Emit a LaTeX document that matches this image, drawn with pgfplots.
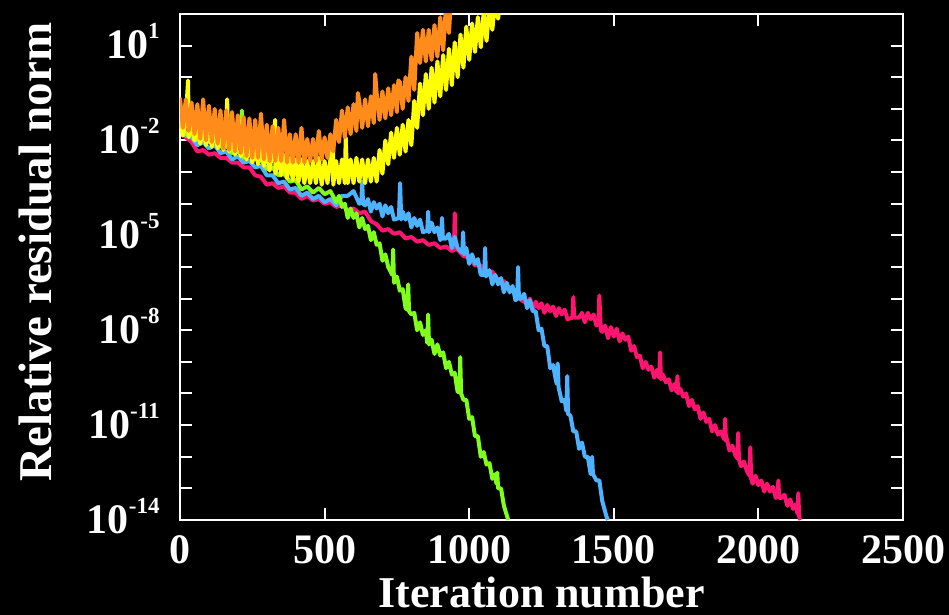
\documentclass[border=0pt]{standalone}
\usepackage{pgfplots}
\pgfplotsset{compat=1.18}
\usepackage{fontspec}
\setmainfont{Liberation Serif}

\definecolor{cpink}{HTML}{FF1470}
\definecolor{cblue}{HTML}{4DB2FF}
\definecolor{cgreen}{HTML}{80FF1A}
\definecolor{cyellow}{HTML}{FFFF00}
\definecolor{corange}{HTML}{FF8C1A}

% exponent for the tick labels
\newcommand{\ex}[1]{\raisebox{10pt}{\fontsize{11.5}{11.5}\selectfont #1}}

\begin{document}
\begin{tikzpicture}
\useasboundingbox (-90pt,-47.5pt) rectangle (384.5pt,260pt);
\fill[black] (-90pt,-47.5pt) rectangle (384.5pt,260pt);
\begin{axis}[
    scale only axis,
    width=361.5pt, height=253pt,
    xmin=0, xmax=2500,
    ymode=log, ymin=1e-14, ymax=1e2,
    xtick={0,500,1000,1500,2000,2500},
    xticklabels={0,500,1000,1500,2000,2500},
    ytick={1e-14,1e-11,1e-8,1e-5,1e-2,1e1},
    yticklabels={10\ex{-14},10\ex{-11},10\ex{-8},10\ex{-5},10\ex{-2},10\ex{1}},
    minor ytick={1e-13,1e-12,1e-10,1e-9,1e-7,1e-6,1e-4,1e-3,1e-1,1,1e2},
    tick align=inside,
    major tick length=6pt, minor tick length=6pt,
    axis line style={white, line width=1pt},
    every tick/.append style={white, line width=1pt},
    /pgf/number format/assume math mode=true,
    tick label style={font=\fontsize{21}{25}\selectfont\bfseries, text=white, inner sep=0pt},
    xticklabel style={anchor=base, yshift=-21.5pt},
    yticklabel style={anchor=base east, xshift=-10pt, yshift=-6.5pt},
    xlabel style={font=\fontsize{22}{26}\selectfont\bfseries, text=white,
                  at={(axis description cs:0.5,-0.172)}, anchor=base},
    ylabel style={font=\fontsize{23.5}{27}\selectfont\bfseries, text=white,
                  at={(axis description cs:-0.2,0.53)}, anchor=center},
    xlabel={Iteration number},
    ylabel={Relative residual norm},
    every axis plot/.append style={line width=2pt, line join=round, mark=none},
]

% pink
\addplot[cpink] coordinates {
(0,3.16e-2) (20,1.26e-2) (40,8.91e-3) (60,4.47e-3) (80,5.0e-3) (100,3.55e-3) (120,3.98e-3) (140,2.82e-3)
(160,2.82e-3) (180,2.0e-3) (200,2.0e-3) (220,1.41e-3) (240,1.41e-3) (260,7.94e-4) (280,7.08e-4) (300,3.98e-4)
(320,4.47e-4) (340,3.16e-4) (360,3.55e-4) (380,2.24e-4) (400,2.24e-4) (420,1.41e-4) (440,1.78e-4) (460,1.26e-4)
(480,1.41e-4) (500,1.0e-4) (520,1.12e-4) (540,7.94e-5) (560,8.91e-5) (580,6.31e-5) (600,7.08e-5) (620,5.0e-5)
(640,5.62e-5) (660,2.82e-5) (680,2.24e-5) (700,1.41e-5) (720,1.58e-5) (740,1.12e-5) (760,1.26e-5) (780,7.94e-6)
(800,8.91e-6) (820,6.31e-6) (840,7.08e-6) (860,5.0e-6) (880,5.62e-6) (900,3.98e-6) (920,4.47e-6) (940,3.16e-6)
(947,3.55e-6) (950,5.0e-5) (953,3.55e-6) (960,3.55e-6) (980,2.24e-6) (1000,2.0e-6) (1020,1.12e-6) (1040,1.12e-6)
(1060,7.08e-7) (1080,7.08e-7) (1100,3.98e-7) (1120,3.55e-7) (1140,2.0e-7) (1160,1.58e-7) (1180,8.91e-8)
(1200,7.08e-8) (1210,1.0e-7) (1220,4.47e-8) (1230,7.94e-8) (1240,5.0e-8) (1250,7.08e-8) (1260,3.55e-8)
(1270,6.31e-8) (1280,3.98e-8) (1290,5.62e-8) (1300,2.82e-8) (1310,5.0e-8) (1320,3.16e-8) (1330,4.47e-8)
(1340,2.24e-8) (1357,2.51e-8) (1360,1.12e-7) (1363,2.51e-8) (1380,2.51e-8) (1390,3.55e-8) (1400,1.78e-8)
(1410,3.55e-8) (1420,2.24e-8) (1430,3.16e-8) (1440,1.41e-8) (1447,1.58e-8) (1450,1.26e-7) (1455,1.0e-8)
(1460,8.91e-9) (1470,1.41e-8) (1480,5.62e-9) (1490,1.26e-8) (1500,6.31e-9) (1510,1.12e-8) (1520,4.47e-9)
(1530,7.94e-9) (1540,5.0e-9) (1550,6.31e-9) (1560,2.24e-9) (1570,3.16e-9) (1580,1.41e-9) (1590,1.58e-9)
(1600,6.31e-10) (1610,1.0e-9) (1620,5.62e-10) (1630,7.08e-10) (1640,3.16e-10) (1650,5.62e-10) (1657,3.16e-10)
(1660,2.0e-9) (1663,2.82e-10) (1670,3.98e-10) (1680,2.24e-10) (1690,2.82e-10) (1700,1.26e-10) (1710,2.0e-10)
(1717,1.12e-10) (1720,3.55e-10) (1723,1.0e-10) (1730,1.41e-10) (1740,7.94e-11) (1750,1.0e-10) (1760,3.98e-11)
(1770,6.31e-11) (1780,3.16e-11) (1790,3.98e-11) (1800,1.58e-11) (1810,2.51e-11) (1820,1.26e-11) (1830,1.58e-11)
(1840,6.31e-12) (1850,1.0e-11) (1860,5.0e-12) (1870,6.31e-12) (1882,3.55e-12) (1885,1.58e-11) (1888,3.16e-12)
(1890,3.98e-12) (1900,1.58e-12) (1910,2.24e-12) (1920,1.12e-12) (1927,8.91e-13) (1930,5.62e-12) (1933,7.94e-13)
(1940,5.0e-13) (1950,7.08e-13) (1960,3.55e-13) (1969,2.51e-13) (1972,2.0e-12) (1975,2.0e-13) (1980,1.41e-13)
(1990,2.51e-13) (2000,1.26e-13) (2010,1.78e-13) (2020,7.94e-14) (2030,1.41e-13) (2040,7.94e-14) (2050,1.12e-13)
(2060,5.0e-14) (2066,5.62e-14) (2069,1.78e-13) (2072,5.0e-14) (2080,5.0e-14) (2090,6.31e-14) (2100,2.82e-14)
(2110,4.47e-14) (2120,2.24e-14) (2130,3.16e-14) (2135,1.58e-14) (2138,7.08e-14) (2141,1.26e-14) (2145,1e-14)
};

% blue
\addplot[cblue] coordinates {
(0,3.55e-2) (20,1.41e-2) (40,1.26e-2) (60,7.08e-3) (80,8.91e-3) (100,5.62e-3) (120,7.08e-3) (140,3.98e-3)
(160,4.47e-3) (180,2.51e-3) (200,3.16e-3) (220,2.0e-3) (240,2.24e-3) (260,1.41e-3) (280,1.58e-3) (300,7.94e-4)
(320,7.94e-4) (340,4.47e-4) (360,5.0e-4) (380,2.82e-4) (400,3.16e-4) (420,1.78e-4) (440,2.24e-4) (460,1.41e-4)
(480,1.78e-4) (500,1.12e-4) (520,1.41e-4) (540,8.91e-5) (560,1.78e-4) (580,1.78e-4) (600,2.51e-4) (620,1.0e-4)
(627,1.12e-4) (630,5.0e-4) (633,1.0e-4) (640,8.91e-5) (650,1.41e-4) (660,5.62e-5) (670,1.12e-4) (680,7.08e-5)
(690,1.0e-4) (700,3.98e-5) (710,8.91e-5) (720,5.0e-5) (730,7.94e-5) (740,3.16e-5) (757,3.55e-5) (761,4.47e-4)
(765,3.16e-5) (770,5.62e-5) (780,3.16e-5) (790,5.0e-5) (800,1.78e-5) (810,3.55e-5) (820,2.0e-5) (830,3.16e-5)
(840,1.26e-5) (855,1.41e-5) (858,5.62e-5) (861,1.26e-5) (870,2.51e-5) (880,1.26e-5) (890,1.78e-5) (900,7.08e-6)
(903,7.94e-6) (906,3.55e-5) (909,7.94e-6) (920,7.94e-6) (930,1.12e-5) (940,3.98e-6) (950,8.91e-6) (960,3.98e-6)
(976,2.82e-6) (979,1.26e-5) (982,2.51e-6) (990,3.98e-6) (1000,1.26e-6) (1010,2.51e-6) (1020,1.26e-6) (1030,1.78e-6)
(1040,5.62e-7) (1052,5.62e-7) (1055,3.98e-6) (1058,5.0e-7) (1060,5.62e-7) (1070,7.94e-7) (1080,2.82e-7)
(1090,5.62e-7) (1100,2.82e-7) (1110,4.47e-7) (1120,1.58e-7) (1130,3.16e-7) (1140,1.58e-7) (1150,2.51e-7)
(1160,8.91e-8) (1166,1.0e-7) (1169,1.0e-6) (1172,1.0e-7) (1180,1.0e-7) (1190,1.41e-7) (1200,5.0e-8) (1210,8.91e-8)
(1220,3.98e-8) (1230,3.98e-8) (1240,1.0e-8) (1250,1.12e-8) (1260,3.16e-9) (1270,3.16e-9) (1280,6.31e-10)
(1290,7.94e-10) (1300,2.51e-10) (1303,2.0e-10) (1306,8.91e-10) (1309,1.58e-10) (1320,5.62e-11) (1330,6.31e-11)
(1336,2.82e-11) (1339,3.55e-10) (1342,2.24e-11) (1350,2.0e-11) (1360,6.31e-12) (1370,6.31e-12) (1380,1.78e-12)
(1390,2.82e-12) (1400,1.0e-12) (1410,1.0e-12) (1420,2.82e-13) (1422,3.16e-13) (1425,1.0e-12) (1428,2.82e-13)
(1440,1.78e-13) (1450,1.78e-13) (1460,3.98e-14) (1475,1.26e-14) (1480,1e-14)
};

% green
\addplot[cgreen] coordinates {
(0,3.98e-2) (20,1.58e-2) (40,1.58e-2) (60,1.0e-2) (80,1.26e-2) (100,8.91e-3) (120,1.12e-2) (140,6.31e-3)
(160,7.08e-3) (180,3.98e-3) (200,4.47e-3) (211,3.55e-3) (214,8.91e-2) (217,3.55e-3) (220,2.82e-3) (240,3.55e-3)
(260,2.51e-3) (280,2.51e-3) (300,1.26e-3) (320,1.41e-3) (340,7.94e-4) (360,8.91e-4) (380,5.0e-4) (400,5.62e-4)
(420,2.82e-4) (440,3.55e-4) (460,2.24e-4) (480,3.16e-4) (500,2.0e-4) (520,2.51e-4) (540,1.12e-4) (550,1.78e-4)
(560,7.94e-5) (570,1.0e-4) (580,3.55e-5) (590,7.08e-5) (600,3.55e-5) (610,5.0e-5) (620,1.78e-5) (630,3.55e-5)
(640,1.58e-5) (650,2.0e-5) (660,7.08e-6) (670,1.26e-5) (680,5.0e-6) (690,5.62e-6) (700,1.58e-6) (710,2.51e-6)
(720,1.0e-6) (734,5.62e-7) (737,3.55e-6) (740,3.16e-7) (750,5.0e-7) (760,1.78e-7) (770,2.0e-7) (780,5.0e-8)
(786,4.47e-8) (789,2.82e-7) (792,3.98e-8) (800,3.16e-8) (810,3.55e-8) (820,1.0e-8) (830,1.78e-8) (840,7.08e-9)
(850,1.0e-8) (855,3.98e-9) (858,3.16e-8) (861,3.55e-9) (870,5.0e-9) (880,1.78e-9) (890,3.55e-9) (900,1.58e-9)
(910,2.0e-9) (920,6.31e-10) (930,1.0e-9) (940,3.98e-10) (950,4.47e-10) (960,1.12e-10) (966,1.12e-10)
(969,1.41e-9) (972,1.0e-10) (980,6.31e-11) (990,6.31e-11) (1000,1.58e-11) (1010,1.78e-11) (1020,4.47e-12)
(1030,4.47e-12) (1040,1.0e-12) (1050,1.41e-12) (1060,5.62e-13) (1070,6.31e-13) (1080,2.0e-13) (1090,2.82e-13)
(1094,1.41e-13) (1097,3.16e-13) (1100,1.0e-13) (1110,1.0e-13) (1120,2.82e-14) (1135,1e-14)
};

% yellow
\addplot[cyellow] coordinates {
(0,6.31e-2) (10,1.41e-2) (20,5.0e-2) (28,7.94e-1) (30,1.26e-2) (40,4.47e-2) (50,1.0e-2) (60,3.55e-2)
(70,7.94e-3) (80,2.82e-2) (90,7.08e-3) (100,2.51e-2) (110,6.31e-3) (120,2.24e-2) (130,5.62e-3) (140,2.0e-2)
(150,5.01e-3) (160,1.78e-2) (163,2.0e-1) (166,1.58e-2) (170,4.47e-3) (180,1.41e-2) (190,3.55e-3) (200,1.26e-2)
(208,3.98e-2) (210,3.16e-3) (220,1.0e-2) (230,2.51e-3) (240,8.91e-3) (250,2.0e-3) (260,7.08e-3) (270,1.78e-3)
(280,6.31e-3) (290,1.58e-3) (300,5.62e-3) (310,1.12e-3) (320,5.0e-3) (329,4.47e-2) (330,8.91e-4) (340,4.47e-3)
(350,7.94e-4) (360,3.55e-3) (370,6.31e-4) (380,2.82e-3) (390,5.62e-4) (400,2.51e-3) (410,5.0e-4) (420,2.51e-3)
(430,4.47e-4) (440,2.24e-3) (450,4.47e-4) (460,2.24e-3) (470,4.47e-4) (480,2.82e-3) (490,3.98e-4) (500,2.24e-3)
(510,4.47e-4) (520,2.51e-3) (529,6.31e-3) (530,3.98e-4) (540,2.24e-3) (550,4.47e-4) (560,2.51e-3) (570,4.47e-4)
(573,1.26e-2) (576,2.0e-3) (580,4.47e-4) (590,2.51e-3) (600,4.47e-4) (610,2.82e-3) (620,5.0e-4) (630,2.51e-3)
(640,4.47e-4) (650,2.51e-3) (660,5.0e-4) (670,2.82e-3) (680,5.0e-4) (690,5.0e-3) (700,8.91e-4) (710,1.0e-2)
(720,1.78e-3) (730,1.78e-2) (740,2.82e-3) (750,2.51e-2) (760,3.55e-3) (770,3.16e-2) (780,4.47e-3) (790,4.47e-2)
(800,7.08e-3) (810,1.78e-1) (820,2.51e-2) (830,6.31e-1) (840,6.31e-2) (850,1.26) (860,1.0e-1) (870,2.0)
(880,1.58e-1) (890,3.16) (900,2.51e-1) (910,5.01) (920,3.98e-1) (930,7.94) (940,5.62e-1) (950,12.6)
(960,1.0) (970,22.4) (980,2.0) (990,39.8) (1000,3.55) (1010,50.1) (1020,6.31) (1030,79.4)
(1040,8.91) (1050,112) (1060,14.1) (1070,178) (1080,31.6) (1090,282) (1100,70.8) (1110,501) (1120,158)
};

% orange
\addplot[corange] coordinates {
(0,2.24e-1) (10,2.51e-2) (20,2.0e-1) (30,2.0e-2) (40,1.58e-1) (50,1.58e-2) (60,1.41e-1) (70,1.12e-2)
(80,2.0e-1) (90,1.0e-2) (100,1.26e-1) (110,8.91e-3) (120,1.0e-1) (130,7.94e-3) (140,8.91e-2) (150,5.62e-3)
(160,8.91e-2) (170,5.0e-3) (180,7.94e-2) (190,4.47e-3) (200,6.31e-2) (210,3.98e-3) (220,5.62e-2) (230,3.16e-3)
(240,5.0e-2) (250,2.82e-3) (260,4.47e-2) (270,2.82e-3) (280,7.08e-2) (290,2.51e-3) (300,3.16e-2) (310,2.24e-3)
(320,2.82e-2) (330,2.24e-3) (340,2.51e-2) (350,2.24e-3) (360,4.47e-2) (370,2.0e-3) (380,1.58e-2) (390,2.0e-3)
(400,1.58e-2) (410,2.0e-3) (420,2.51e-2) (430,2.0e-3) (440,1.12e-2) (450,2.24e-3) (460,1.12e-2) (470,2.24e-3)
(480,2.0e-2) (490,2.51e-3) (500,1.26e-2) (510,2.82e-3) (520,1.58e-2) (530,4.47e-3) (540,4.47e-2) (550,8.91e-3)
(560,8.91e-2) (570,1.26e-2) (580,1.12e-1) (590,1.58e-2) (600,1.41e-1) (610,2.0e-2) (615,3.16e-1) (620,1.78e-1)
(630,2.51e-2) (640,2.0e-1) (650,2.82e-2) (660,2.51e-1) (670,3.55e-2) (675,1.26) (680,3.16e-1) (690,4.47e-2)
(700,3.55e-1) (710,5.0e-2) (720,4.47e-1) (730,6.31e-2) (740,5.62e-1) (750,7.94e-2) (755,7.94e-1) (760,7.08e-1)
(770,1.0e-1) (780,1.0) (790,1.78e-1) (800,4.47) (810,3.98e-1) (820,25.1) (830,2.82) (840,31.6)
(850,3.16) (860,31.6) (870,3.55) (880,44.7) (890,4.47) (900,79.4) (910,7.08) (920,200) (930,25.1) (940,794) (950,200)
};

\end{axis}
\end{tikzpicture}
\end{document}
